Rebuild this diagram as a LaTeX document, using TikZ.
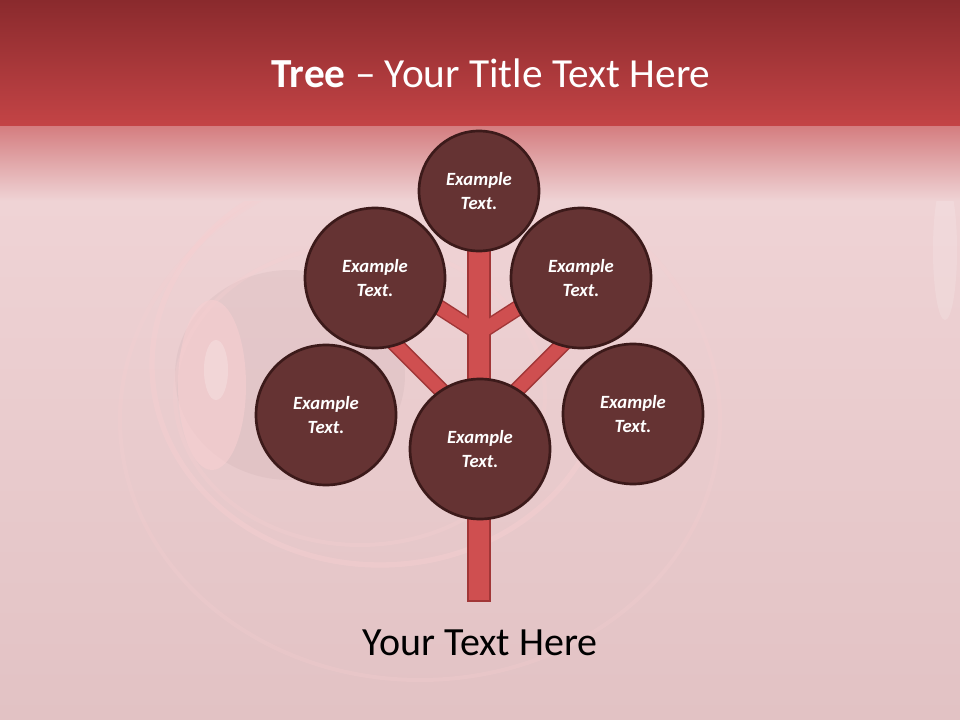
\documentclass[tikz,border=0pt]{standalone}
\usepackage{fontspec}
\setmainfont{Carlito}
\usetikzlibrary{calc}
\definecolor{circfill}{HTML}{653333}
\definecolor{circborder}{HTML}{3C1A1A}
\definecolor{barfill}{HTML}{CF4F50}
\definecolor{barborder}{HTML}{A13637}
\definecolor{bgpink}{HTML}{E9C6C9}
\definecolor{bgtopp}{HTML}{EFD3D5}
\definecolor{bglow}{HTML}{E2C2C4}
\definecolor{glowpink}{HTML}{F7CFD1}
\definecolor{bgtop}{HTML}{8A2A2D}
\definecolor{bgband}{HTML}{C44446}
\tikzset{
  leaf/.style={circle, draw=circborder, line width=2pt, fill=circfill, inner sep=0pt,
    minimum size=105pt, text=white, align=center,
    font=\fontsize{14pt}{17.5pt}\selectfont\bfseries\itshape},
  topleaf/.style={leaf, minimum size=90pt},
  branch/.style={draw=barborder, line width=1.1pt, double=barfill, double distance=9.8pt},
  trunkbar/.style={draw=barborder, line width=1.1pt, fill=barfill},
}
\begin{document}
\begin{tikzpicture}[x=0.75pt,y=-0.75pt]
% background
\useasboundingbox (0,0) rectangle (960,720);
\shade[top color=bgtopp, bottom color=bglow] (0,200) rectangle (960,720);
% faint swirl
\fill[black!25!bgpink, opacity=0.12] (290,375) ellipse (115 and 105);
\fill[glowpink, opacity=0.6] (212,385) ellipse (34 and 85);
\fill[white, opacity=0.22] (216,370) ellipse (12 and 30);
\draw[glowpink, opacity=0.45, line width=4pt] (380,365) ellipse (228 and 200);
\draw[glowpink, opacity=0.3, line width=3pt] (360,395) ellipse (185 and 150);
\draw[glowpink, opacity=0.25, line width=3pt] (420,420) ellipse (300 and 260);
\fill[white, opacity=0.15] (945,250) ellipse (12 and 70);
% title band
\shade[top color=bgtop, bottom color=bgband] (0,0) rectangle (960,127);
\shade[top color=bgband!55!bgpink, middle color=bgband!12!bgtopp, bottom color=bgtopp] (0,127) rectangle (960,201);
% structure coordinates
\coordinate (trunktop) at (468,200);
\coordinate (trunkbot) at (490,601);
\coordinate (forkup) at (479,333);
\coordinate (forklow) at (479,428);
\coordinate (endul) at (420,295);
\coordinate (endur) at (538,295);
\coordinate (endll) at (390,339);
\coordinate (endlr) at (568,339);
% bars
\draw[trunkbar] (trunktop) rectangle (trunkbot);
\draw[branch] (forkup) -- (endul);
\draw[branch] (forkup) -- (endur);
\draw[branch] (forklow) -- (endll);
\draw[branch] (forklow) -- (endlr);
\fill[barfill] (469,200) rectangle (489,440);
% leaves
\node[topleaf] (top) at (479,191) {Example\\Text.};
\node[leaf] (ul) at (375,278) {Example\\Text.};
\node[leaf] (ur) at (581,278) {Example\\Text.};
\node[leaf] (ll) at (326,415) {Example\\Text.};
\node[leaf] (lr) at (633,414) {Example\\Text.};
\node[leaf] (mid) at (480,449) {Example\\Text.};
% texts
\node[anchor=base, text=white, font=\fontsize{31pt}{37pt}\selectfont, inner sep=0pt] (title) at (491,88) {\textbf{Tree} – Your Title Text Here};
\node[anchor=base, text=black, font=\fontsize{30pt}{36pt}\selectfont, inner sep=0pt] (bottom) at (480,655) {Your Text Here};
\end{tikzpicture}
\end{document}
